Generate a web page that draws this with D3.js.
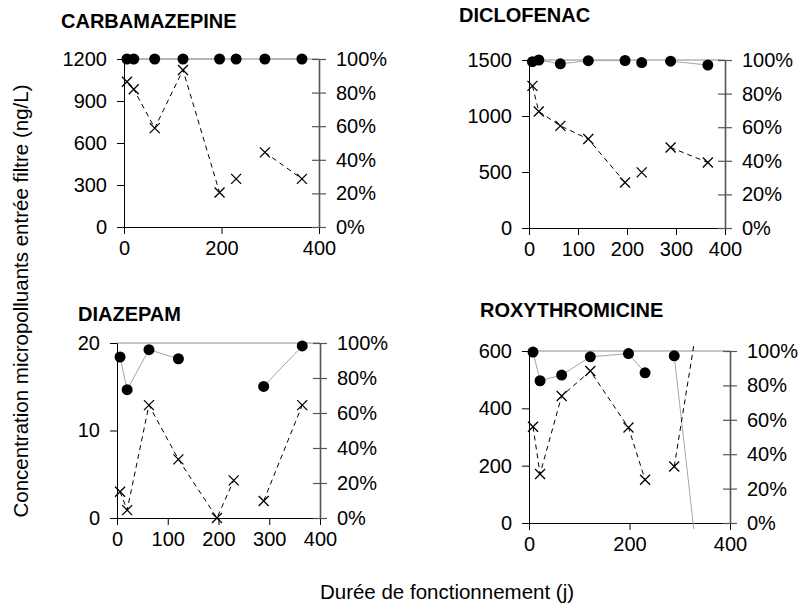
<!DOCTYPE html>
<html>
<head>
<meta charset="utf-8">
<script src="https://cdn.jsdelivr.net/npm/d3@7"></script>
<style>
  body { margin: 0; background: #fff; }
  text { font-family: "Liberation Sans", Arial, sans-serif; }
</style>
</head>
<body>
<div id="chart"></div>
<script>
(function(d3) {
    'use strict';

    // null in a days array = blank row of the sheet (breaks the lines)
    var carbaDays = [6, 20, 63, 121, 196, null, 230, null, 289, 365];
    var carbaConc = [1038, 984, 706, 1122, 247, null, 344, null, 533, 344];
    var carbaRemoval = [100, 100, 100, 100, 100, null, 100, null, 100, 100];

    var dicloDays = [7, 20, 64, 121, 196, null, 230, null, 289, 365];
    var dicloConc = [1269, 1040, 912, 794, 407, null, 497, null, 719, 585];
    var dicloRemoval = [99, 100, 97.7, 99.6, 99.7, null, 98.5, null, 99.3, 97];

    var diazDays = [6, 20, 63, 121, 197, 230, null, 289, 365];
    var diazConc = [3.0, 0.9, 12.9, 6.7, 0, 4.3, null, 1.95, 12.9];
    var diazRemoval = [92, 73.3, 96.2, 91, null, null, null, 75.2, 98.3];

    var roxyDays = [8, 22, 65, 122, 198, 231, null, 289, 328];
    var roxyConc = [336, 171, 443, 530, 333, 151, null, 197, 620];
    var roxyRemoval = [99.4, 82.7, 86, 96.6, 98.5, 87.3, null, 97.2, -3.5];

    var pctTicks = [0, 20, 40, 60, 80, 100];

    var width = 800,
        height = 610;

    var svg = d3.select("#chart").append("svg")
        .attr("width", width)
        .attr("height", height);

    var panels = [
        { name: "CARBAMAZEPINE", days: carbaDays, conc: carbaConc, removal: carbaRemoval,
          yTicks: [0, 300, 600, 900, 1200], xTicks: [0, 200, 400],
          left: 124, right: 319, top: 59, bottom: 227, tx: 61, ty: 28 },
        { name: "DICLOFENAC", days: dicloDays, conc: dicloConc, removal: dicloRemoval,
          yTicks: [0, 500, 1000, 1500], xTicks: [0, 100, 200, 300, 400],
          left: 529, right: 725, top: 60, bottom: 228, tx: 459, ty: 22 },
        { name: "DIAZEPAM", days: diazDays, conc: diazConc, removal: diazRemoval,
          yTicks: [0, 10, 20], xTicks: [0, 100, 200, 300, 400],
          left: 117, right: 320, top: 343, bottom: 518, tx: 78, ty: 321 },
        { name: "ROXYTHROMICINE", days: roxyDays, conc: roxyConc, removal: roxyRemoval,
          yTicks: [0, 200, 400, 600], xTicks: [0, 200, 400],
          left: 529, right: 730, top: 351, bottom: 523, tx: 480, ty: 317 }
    ];

    panels.forEach(drawPanel);

    function drawPanel(p) {
        var x = d3.scaleLinear().domain([0, 400]).range([p.left, p.right]);
        var y = d3.scaleLinear().domain([0, d3.max(p.yTicks)]).range([p.bottom, p.top]);
        var yR = d3.scaleLinear().domain([0, 100]).range([p.bottom, p.top]);

        var g = svg.append("g");

        g.append("text")
            .attr("x", p.tx)
            .attr("y", p.ty)
            .attr("font-size", 20)
            .attr("font-weight", "bold")
            .text(p.name);

        // top border
        g.append("line")
            .attr("x1", p.left).attr("x2", p.right)
            .attr("y1", p.top).attr("y2", p.top)
            .attr("stroke", "#8c8c8c");

        var ax = g.append("g")
            .attr("transform", "translate(0," + p.bottom + ")")
            .call(d3.axisBottom(x).tickValues(p.xTicks).tickSize(7).tickSizeOuter(0).tickPadding(7)
                .tickFormat(d3.format("d")));

        var ay = g.append("g")
            .attr("transform", "translate(" + p.left + ",0)")
            .call(d3.axisLeft(y).tickValues(p.yTicks).tickSize(7).tickSizeOuter(0).tickPadding(10)
                .tickFormat(d3.format("d")));

        var ar = g.append("g")
            .attr("transform", "translate(" + p.right + ",0)")
            .call(d3.axisRight(yR).tickValues(pctTicks).tickSize(7).tickSizeOuter(0).tickPadding(10)
                .tickFormat(function(d) { return d + "%"; }));
        ar.selectAll(".tick line").attr("x1", -7).attr("x2", 7);

        [ax, ay].forEach(function(a) {
            a.select(".domain").attr("stroke", "#000");
            a.selectAll(".tick line").attr("stroke", "#000");
        });
        ar.select(".domain").attr("stroke", "#555").attr("stroke-width", 1.6);
        ar.selectAll(".tick line").attr("stroke", "#555").attr("stroke-width", 1.2);

        g.selectAll(".tick text")
            .attr("font-size", 20)
            .attr("font-family", "'Liberation Sans', Arial, sans-serif")
            .attr("fill", "#000");

        var conc = p.days.map(function(d, i) { return { d: d, v: p.conc[i] }; });
        var rem = p.days.map(function(d, i) { return { d: d, v: p.removal[i] }; });

        var ok = function(o) { return o.d != null && o.v != null; };

        var lineR = d3.line().defined(ok)
            .x(function(o) { return x(o.d); })
            .y(function(o) { return yR(o.v); });
        var lineC = d3.line().defined(ok)
            .x(function(o) { return x(o.d); })
            .y(function(o) { return y(o.v); });

        // removal (%) : grey line + black dots
        g.append("path")
            .datum(rem)
            .attr("d", lineR)
            .attr("fill", "none")
            .attr("stroke", "#a6a6a6")
            .attr("stroke-width", 1);

        g.selectAll(".dot")
            .data(rem.filter(function(o) { return ok(o) && o.v >= 0 && o.v <= 100; }))
            .enter().append("circle")
            .attr("class", "dot")
            .attr("cx", function(o) { return x(o.d); })
            .attr("cy", function(o) { return yR(o.v); })
            .attr("r", 5.5)
            .attr("fill", "#000");

        // concentration : dashed line + crosses
        g.append("path")
            .datum(conc)
            .attr("d", lineC)
            .attr("fill", "none")
            .attr("stroke", "#000")
            .attr("stroke-width", 1)
            .attr("stroke-dasharray", "5,4");

        var top = d3.max(p.yTicks);
        g.selectAll(".cross")
            .data(conc.filter(function(o) { return ok(o) && o.v >= 0 && o.v <= top; }))
            .enter().append("path")
            .attr("class", "cross")
            .attr("transform", function(o) { return "translate(" + x(o.d) + "," + y(o.v) + ")"; })
            .attr("d", "M-5,-5L5,5M-5,5L5,-5")
            .attr("stroke", "#000")
            .attr("stroke-width", 1.3)
            .attr("fill", "none");
    }

    svg.append("text")
        .attr("transform", "translate(28,301) rotate(-90)")
        .attr("text-anchor", "middle")
        .attr("font-size", 20.5)
        .text("Concentration micropolluants entrée filtre (ng/L)");

    svg.append("text")
        .attr("x", 447)
        .attr("y", 599)
        .attr("text-anchor", "middle")
        .attr("font-size", 20.5)
        .text("Durée de fonctionnement (j)");

})(window.d3);
</script>
</body>
</html>
